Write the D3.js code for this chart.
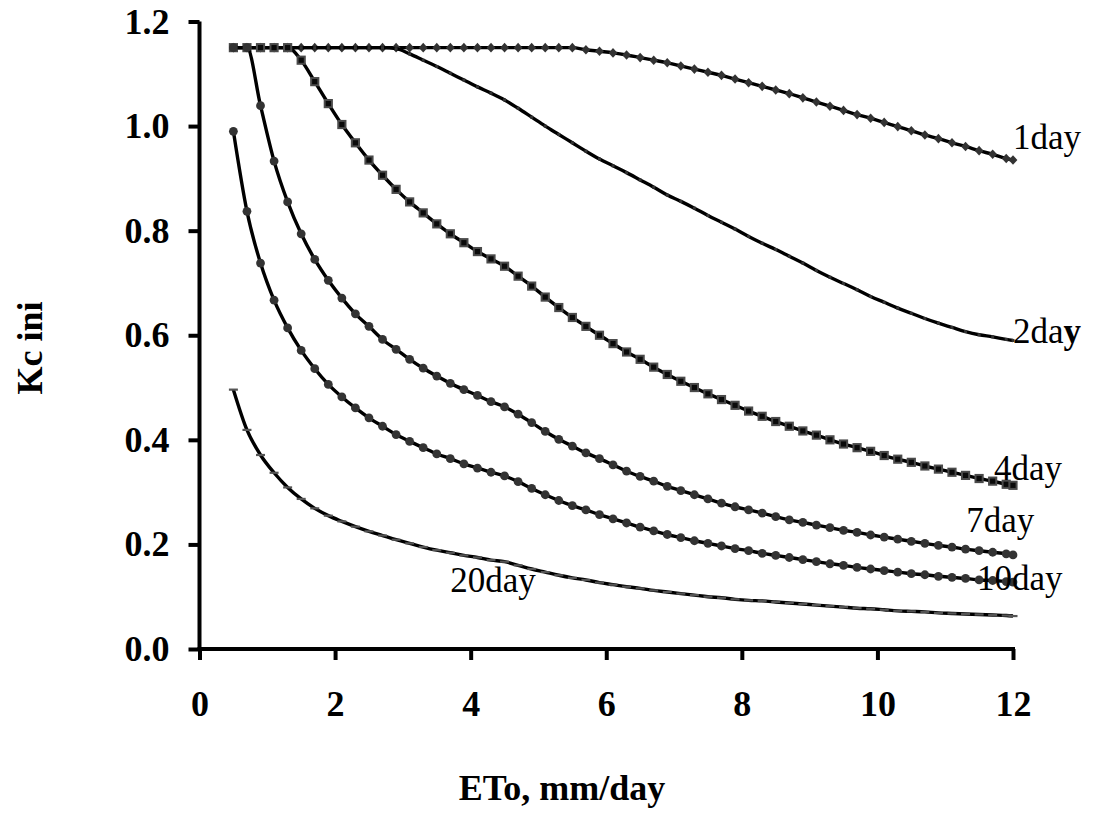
<!DOCTYPE html>
<html>
<head>
<meta charset="utf-8">
<script src="https://cdn.jsdelivr.net/npm/d3@7"></script>
<style>
  html, body { margin: 0; padding: 0; background: #fff; }
  svg { display: block; }
</style>
</head>
<body>
<svg id="chart" width="1095" height="813"></svg>
<script>
// Reference evapotranspiration (mm/day) at which every curve is evaluated
const eto = [0.5,0.7,0.9,1.1,1.3,1.5,1.7,1.9,2.1,2.3,2.5,2.7,2.9,3.1,3.3,3.5,3.7,3.9,4.1,4.3,
  4.5,4.7,4.9,5.1,5.3,5.5,5.7,5.9,6.1,6.3,6.5,6.7,6.9,7.1,7.3,7.5,7.7,7.9,8.1,8.3,
  8.5,8.7,8.9,9.1,9.3,9.5,9.7,9.9,10.1,10.3,10.5,10.7,10.9,11.1,11.3,11.5,11.7,11.9,12.0];

// Kc ini for each interval between wetting events
const kc1day = [1.15,1.15,1.15,1.15,1.15,1.15,1.15,1.15,1.15,1.15,1.15,1.15,1.15,1.15,1.15,1.15,1.15,1.15,1.15,1.15,
  1.15,1.15,1.15,1.15,1.15,1.15,1.146,1.143,1.140,1.136,1.131,1.126,1.121,1.115,1.109,1.103,1.097,1.090,1.083,1.076,
  1.069,1.062,1.054,1.046,1.038,1.030,1.022,1.015,1.007,0.999,0.991,0.983,0.976,0.968,0.961,0.953,0.946,0.938,0.935];
const kc2day = [1.15,1.15,1.15,1.15,1.15,1.15,1.15,1.15,1.15,1.15,1.15,1.15,1.148,1.138,1.126,1.114,1.101,1.088,1.075,1.063,
  1.050,1.034,1.017,1.000,0.984,0.968,0.952,0.937,0.924,0.911,0.897,0.883,0.868,0.856,0.843,0.829,0.816,0.803,0.789,0.776,
  0.764,0.751,0.738,0.724,0.711,0.699,0.687,0.674,0.663,0.652,0.642,0.632,0.623,0.615,0.607,0.601,0.597,0.592,0.590];
const kc4day = [1.15,1.15,1.15,1.15,1.15,1.126,1.085,1.043,1.003,0.968,0.935,0.906,0.879,0.855,0.834,0.813,0.794,0.777,0.760,0.746,
  0.732,0.713,0.694,0.673,0.653,0.634,0.617,0.600,0.584,0.568,0.554,0.539,0.525,0.512,0.500,0.488,0.477,0.466,0.455,0.445,
  0.435,0.426,0.417,0.409,0.400,0.392,0.385,0.378,0.370,0.363,0.357,0.350,0.344,0.338,0.332,0.326,0.321,0.315,0.313];
const kc7day = [1.15,1.15,1.039,0.933,0.855,0.794,0.745,0.705,0.671,0.641,0.617,0.592,0.573,0.554,0.537,0.522,0.508,0.496,0.485,0.473,
  0.463,0.449,0.433,0.416,0.401,0.388,0.375,0.364,0.352,0.340,0.330,0.321,0.311,0.303,0.295,0.287,0.279,0.272,0.266,0.260,
  0.253,0.247,0.242,0.237,0.232,0.227,0.223,0.218,0.214,0.210,0.206,0.202,0.198,0.195,0.191,0.188,0.185,0.182,0.180];
const kc10day = [0.990,0.837,0.738,0.667,0.614,0.571,0.536,0.506,0.482,0.461,0.442,0.426,0.410,0.397,0.385,0.373,0.364,0.354,0.346,0.338,
  0.331,0.320,0.307,0.295,0.284,0.274,0.266,0.257,0.249,0.241,0.233,0.226,0.219,0.213,0.207,0.202,0.197,0.192,0.188,0.183,
  0.179,0.175,0.171,0.167,0.163,0.160,0.156,0.153,0.150,0.147,0.144,0.142,0.139,0.137,0.135,0.132,0.131,0.129,0.128];
const kc20day = [0.496,0.419,0.371,0.337,0.309,0.287,0.269,0.255,0.244,0.234,0.225,0.217,0.209,0.202,0.195,0.189,0.184,0.179,0.175,0.170,
  0.167,0.160,0.153,0.147,0.141,0.136,0.132,0.127,0.123,0.119,0.116,0.112,0.109,0.106,0.103,0.100,0.098,0.095,0.093,0.092,
  0.090,0.088,0.086,0.084,0.082,0.080,0.078,0.077,0.075,0.073,0.072,0.071,0.069,0.068,0.067,0.066,0.065,0.064,0.063];

// Axis ticks and titles
const xTicks = [0, 2, 4, 6, 8, 10, 12];
const yTicks = [0, 0.2, 0.4, 0.6, 0.8, 1.0, 1.2];
const xTitle = "ETo, mm/day";
const yTitle = "Kc ini";

// Curve labels with the data-space point where each one starts (left edge, baseline)
const labelNames = ["1day", "2day", "4day", "7day", "10day", "20day"];
const labelEto   = [12.0, 12.0, 11.72, 11.31, 11.47, 3.70];
const labelKc    = [0.956, 0.585, 0.323, 0.224, 0.113, 0.109];

const series = [
  { name: "1day",  values: kc1day,  marker: "diamond" },
  { name: "2day",  values: kc2day,  marker: "tiny" },
  { name: "4day",  values: kc4day,  marker: "square" },
  { name: "7day",  values: kc7day,  marker: "circle" },
  { name: "10day", values: kc10day, marker: "circle" },
  { name: "20day", values: kc20day, marker: "dash" }
];

const svg = d3.select("#chart");
svg.append("rect").attr("width", 1095).attr("height", 813).attr("fill", "#fff");

const x = d3.scaleLinear().domain([0, 12]).range([199.5, 1013]);
const y = d3.scaleLinear().domain([0, 1.2]).range([649, 21.5]);

const serif = "'Liberation Serif', 'Times New Roman', Times, serif";

// Axes
const gx = svg.append("g")
  .attr("transform", `translate(0,${y(0)})`)
  .call(d3.axisBottom(x).tickValues(xTicks).tickSize(11).tickSizeOuter(0).tickPadding(30)
    .tickFormat(d3.format("d")));
const gy = svg.append("g")
  .attr("transform", `translate(${x(0)},0)`)
  .call(d3.axisLeft(y).tickValues(yTicks).tickSize(11).tickSizeOuter(0).tickPadding(19)
    .tickFormat(d3.format(".1f")));

[gx, gy].forEach(g => {
  g.select(".domain").attr("stroke", "#000").attr("stroke-width", 4);
  g.selectAll(".tick line").attr("stroke", "#000").attr("stroke-width", 4);
  g.selectAll(".tick text")
    .attr("fill", "#000")
    .style("font-family", serif)
    .style("font-weight", "bold")
    .style("font-size", "36px");
});
// extend the x-axis line so it meets the y-axis cleanly
gx.select(".domain").attr("d", `M${x(0) - 2},0H${x(12) + 2}`);
gy.select(".domain").attr("d", `M0,${y(1.2)}V${y(0) + 2}`);

// Axis titles
svg.append("text")
  .attr("x", 562).attr("y", 800)
  .attr("text-anchor", "middle")
  .style("font-family", serif).style("font-weight", "bold").style("font-size", "36px")
  .text(xTitle);
svg.append("text")
  .attr("transform", "translate(42,348) rotate(-90)")
  .attr("text-anchor", "middle")
  .style("font-family", serif).style("font-weight", "bold").style("font-size", "36px")
  .text(yTitle);

// Curves
const line = d3.line()
  .x((d, i) => x(eto[i]))
  .y(d => y(d))
  .curve(d3.curveMonotoneX);

const plot = svg.append("g");

series.forEach(s => {
  const g = plot.append("g").attr("class", "series");
  g.append("path")
    .attr("d", line(s.values))
    .attr("fill", "none")
    .attr("stroke", "#000")
    .attr("stroke-width", 3.4)
    .attr("stroke-linejoin", "round");

  const pts = g.selectAll("g.pt").data(s.values).join("g")
    .attr("transform", (d, i) => `translate(${x(eto[i])},${y(d)})`);

  if (s.marker === "circle") {
    pts.append("circle").attr("r", 4.4).attr("fill", "#333");
  } else if (s.marker === "square") {
    pts.append("rect").attr("x", -3.6).attr("y", -3.6).attr("width", 7.2).attr("height", 7.2)
      .attr("fill", "#0a0a0a").attr("stroke", "#4a4a4a").attr("stroke-width", 2);
  } else if (s.marker === "diamond") {
    pts.append("path").attr("d", "M0,-4.8L4.4,0L0,4.8L-4.4,0Z").attr("fill", "#333");
  } else if (s.marker === "dash") {
    pts.append("rect").attr("x", -4.5).attr("y", -1.1).attr("width", 9).attr("height", 2.2)
      .attr("fill", "#555");
  } else if (s.marker === "tiny") {
    pts.append("rect").attr("x", -1.5).attr("y", -1.5).attr("width", 3).attr("height", 3)
      .attr("fill", "#333");
  }
});

// Curve labels
labelNames.forEach((name, i) => {
  const t = svg.append("text")
    .attr("x", x(labelEto[i])).attr("y", y(labelKc[i]))
    .style("font-family", serif).style("font-size", "35px").attr("fill", "#000");
  if (name === "2day") {
    t.append("tspan").text("2da");
    t.append("tspan").style("font-weight", "bold").text("y");
  } else {
    t.text(name);
  }
});
</script>
</body>
</html>
